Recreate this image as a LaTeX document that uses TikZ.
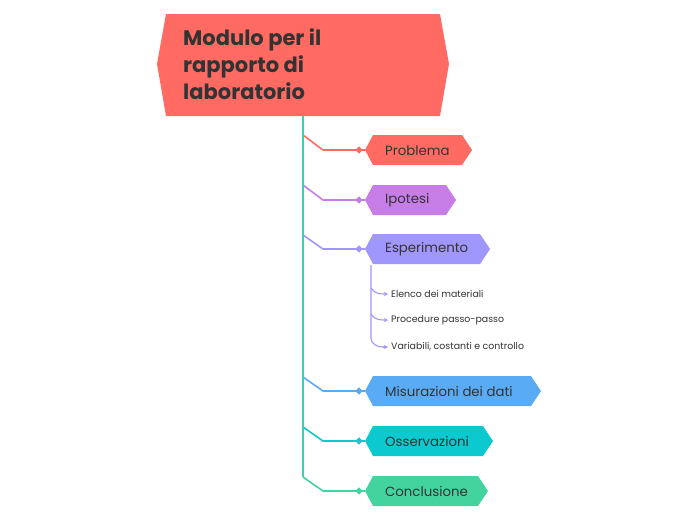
\documentclass[tikz,border=0pt]{standalone}
\usepackage{fontspec}
\setmainfont{Poppins}
\usetikzlibrary{shapes.geometric,arrows.meta}
\definecolor{txt}{HTML}{333333}
\definecolor{cred}{HTML}{FF6B63}
\definecolor{cpur}{HTML}{C77DE6}
\definecolor{clav}{HTML}{9F97FC}
\definecolor{cblu}{HTML}{5AABF5}
\definecolor{ccya}{HTML}{0BC9CF}
\definecolor{cgrn}{HTML}{43D39F}
\definecolor{ctrunk}{HTML}{3CCFB5}
\tikzset{
  lbl/.style={inner sep=0pt, text=txt, font=\fontsize{13.3}{15}\selectfont},
  sublbl/.style={inner sep=0pt, text=txt, font=\fontsize{9.4}{11}\selectfont},
  branch/.style={line width=1.6pt, line join=round},
  dia/.style={diamond, fill, inner sep=0pt, minimum size=7.5pt},
  subline/.style={line width=1.1pt, draw=clav},
  subarrow/.style={-{Stealth[length=4pt,width=4pt]}}
}
\newcommand\hexnode[5]{%
  \fill[#4] (365,#2) -- (373,#2-15) -- (#3-10,#2-15) -- (#3,#2) -- (#3-10,#2+15) -- (373,#2+15) -- cycle;
  \node[lbl,anchor=west] (#1) at (385,#2+0.5) {#5};
  \coordinate (#1L) at (365,#2);
}
\begin{document}
\begin{tikzpicture}[x=1pt,y=-1pt]
\fill[white] (0,0) rectangle (697,520);
\useasboundingbox (0,0) rectangle (697,520);
% root
\fill[cred] (157,64) -- (166,14) -- (440,14) -- (449,64) -- (440,116) -- (166,116) -- cycle;
\node[anchor=north west, inner sep=0pt, text=txt, align=left,
  font=\fontsize{21}{27}\selectfont\bfseries] (root) at (183,28)
  {Modulo per il\\rapporto di\\laboratorio};
\coordinate (rootB) at (303,116);
% children
\hexnode{prob}{150}{472}{cred}{Problema}
\hexnode{ipo}{200}{456}{cpur}{Ipotesi}
\hexnode{esp}{249}{490}{clav}{Esperimento}
\hexnode{mis}{391}{541}{cblu}{Misurazioni dei dati}
\hexnode{oss}{441}{493}{ccya}{Osservazioni}
\hexnode{con}{491}{488}{cgrn}{Conclusione}
% trunk
\coordinate (t1) at (303,135);
\coordinate (t2) at (303,185);
\coordinate (t3) at (303,235);
\coordinate (t4) at (303,377);
\coordinate (t5) at (303,427);
\coordinate (t6) at (303,477);
\draw[branch, draw=cred] (t1) -- (323,150) -- (probL);
\draw[branch, draw=cpur] (t2) -- (323,200) -- (ipoL);
\draw[branch, draw=clav] (t3) -- (323,249) -- (espL);
\draw[branch, draw=cblu] (t4) -- (323,391) -- (misL);
\draw[branch, draw=ccya] (t5) -- (323,441) -- (ossL);
\draw[branch, draw=cgrn] (t6) -- (323,491) -- (conL);
\draw[line width=2.4pt, draw=ctrunk] (rootB) -- (t6);
\foreach \n/\c in {prob/cred,ipo/cpur,esp/clav,mis/cblu,oss/ccya,con/cgrn}
  \node[dia, fill=\c] at ([xshift=-6pt]\n L) {};
% sub children of Esperimento
\node[sublbl, anchor=west] (c1) at (391,294) {Elenco dei materiali};
\node[sublbl, anchor=west] (c2) at (391,320) {Procedure passo-passo};
\node[sublbl, anchor=west] (c3) at (391,347) {Variabili, costanti e controllo};
\coordinate (sv) at (371,265);
\draw[subline] (sv) -- (371,338) to[out=-90,in=180] ([xshift=-8pt]c3.west);
\draw[subline, subarrow] (371,288) to[out=-60,in=180] ([xshift=-3pt]c1.west);
\draw[subline, subarrow] (371,314) to[out=-60,in=180] ([xshift=-3pt]c2.west);
\draw[subline, subarrow] ([xshift=-8.5pt]c3.west) -- ([xshift=-3pt]c3.west);
\end{tikzpicture}
\end{document}
